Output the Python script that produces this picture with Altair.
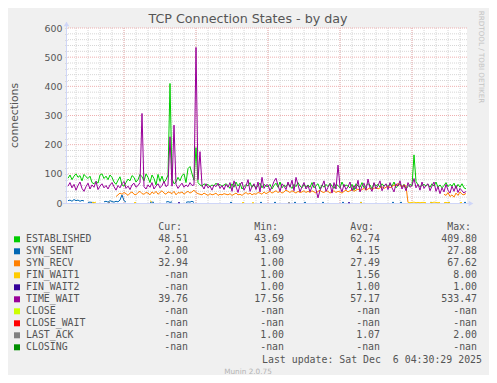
import altair as alt
import pandas as pd

NAN = float("nan")

# ---------------- time base (hours relative to Fri 00:00), 10-minute samples ----------------
T0_HOURS = -4 - 40 / 60      # Thu 19:20
STEP_HOURS = 10 / 60
N = 200
X_DOMAIN = [-4.75, 28 + 35 / 60]
Y_DOMAIN = [0, 600]

# ---------------- series values ----------------
established = (
    [85, 96, 80, 92, 100, 88, 94, 76, 98, 90, 84, 92, 70, 66, 74, 68, 96, 100, 84, 92]
    + [80, 96, 88, 72, 64, 78, 90, 62, 58, 70, 82, 76, 94, 88, 72, 80, 98, 90, 76, 100]
    + [88, 70, 96, 84, 62, 98, 74, 92, 70, 80, 96, 409.8, 84, 66, 72, 88, 76, 94, 100, 70]
    + [118, 125, 100, 78, 190, 70, 62, 58, 66, 60, 64, 56, 62, 58, 68, 60, 64, 57, 62, 66]
    + [60, 50, 66, 54, 72, 58, 68, 48, 56, 64, 58, 70, 54, 62, 50, 60, 68, 52, 64, 58]
    + [56, 64, 48, 60, 68, 54, 72, 52, 62, 56, 66, 58, 50, 64, 56, 70, 58, 52, 64, 54]
    + [62, 54, 70, 52, 60, 66, 48, 62, 54, 64, 56, 68, 58, 50, 64, 60, 52, 72, 56, 62]
    + [58, 52, 64, 43.69, 66, 58, 54, 70, 52, 60, 66, 62, 48, 68, 58, 64, 54, 66, 58, 64]
    + [56, 66, 58, 72, 52, 60, 66, 54, 64, 50, 56, 64, 58, 165, 74, 62, 56, 60, 64, 58]
    + [64, 54, 66, 58, 72, 54, 62, 52, 60, 70, 56, 64, 58, 68, 50, 64, 54, 66, 52, 48.51]
)
time_wait = (
    [58, 70, 52, 64, 44, 60, 72, 50, 40, 56, 68, 48, 62, 54, 74, 46, 58, 66, 52, 60]
    + [48, 62, 70, 56, 44, 60, 52, 66, 74, 50, 58, 46, 62, 68, 54, 60, 70, 307, 56, 48]
    + [62, 54, 70, 48, 58, 66, 52, 60, 74, 56, 62, 227, 58, 267, 64, 50, 60, 68, 54, 62]
    + [56, 70, 60, 62, 533.47, 80, 176, 60, 48, 66, 52, 58, 44, 62, 56, 68, 50, 60, 46, 64]
    + [54, 70, 40, 76, 56, 36, 62, 72, 44, 58, 80, 40, 56, 66, 46, 72, 38, 88, 50, 62]
    + [62, 42, 56, 74, 85, 60, 40, 66, 58, 46, 72, 54, 78, 42, 88, 62, 38, 56, 70, 48]
    + [60, 38, 56, 72, 46, 17.56, 44, 58, 76, 40, 54, 66, 34, 70, 48, 130, 56, 38, 64, 46]
    + [56, 72, 42, 60, 48, 78, 38, 58, 68, 44, 82, 52, 40, 70, 48, 60, 76, 42, 58, 66]
    + [46, 70, 52, 38, 66, 58, 76, 48, 62, 42, 70, 54, 60, 84, 52, 64, 44, 72, 50, 60]
    + [66, 42, 58, 72, 40, 56, 32, 52, 38, 64, 44, 34, 58, 40, 60, 36, 50, 42, 34, 39.76]
)
syn_recv = (
    [NAN] * 20
    + [NAN] * 4 + [22, 28, 34, 30, 36, 32, 26, 34, 38, 30, 28, 36, 40, 32, 30, 36]
    + [34, 28, 38, 32, 40, 30, 36, 42, 34, 30, 38, 36, 32, 40, 28, 36, 34, 38, 30, 36]
    + [40, 34, 38, 44, 36, 32, 30, 28, 34, 30, 26, 32, 28, 30, 34, 26, 30, 28, 32, 30]
    + [28, 32, 26, 30, 34, 28, 30, 26, 32, 36, 30, 34, 28, 32, 30, 36, 34, 30, 38, 32]
    + [36, 40, 34, 38, 42, 36, 40, 34, 38, 44, 40, 36, 42, 38, 34, 40, 36, 38, 42, 36]
    + [40, 36, 42, 38, 34, 40, 44, 38, 36, 42, 40, 34, 38, 42, 36, 40, 38, 34, 40, 44]
    + [38, 42, 46, 40, 44, 48, 42, 46, 50, 44, 48, 52, 46, 50, 54, 48, 52, 56, 50, 54]
    + [58, 52, 56, 62, 58, 67.62, 60, 56, 62, 58, 2] + [NAN] * 9
    + [NAN] * 8 + [30, 26, 36, 22, 28, 20, 34, 26, 38, 30, 28, 32.94]
)
# sparse series: (first sample index, values)
syn_sent_runs = [
    (0, [8, 10, 6, 12, 8, 10, 6, 9, 7]), (10, [2, 3, 2, 2]),
    (18, [4, 6, 3, 8, 5, 3, 6, 4, 10, 27.88, 8, 3]), (41, [2, 3, 2]), (49, [3, 5, 2, 4]),
    (59, [2, 4, 3, 6, 2]), (81, [2, 2]), (96, [2, 2]), (103, [2, 2]), (113, [2, 2]),
    (118, [2, 2]), (127, [2, 2]), (137, [2, 2]), (146, [2, 2]), (162, [2, 2]),
    (166, [2, 2]), (181, [2, 2]), (190, [2, 2]), (198, [2, 2]),
]
fin_wait1_runs = [
    (12, [2, 1, 3]), (33, [1, 2]), (41, [8, 2]), (87, [1, 2]), (92, [1, 1]), (146, [2, 1]),
    (170, [2, 1, 2, 3, 1, 2, 1, 2, 2, 1]), (181, [2, 1, 3, 2, 1, 2]), (188, [1, 2, 1, 2]),
    (196, [1, 2]),
]
fin_wait2_runs = [(55, [1, 1]), (140, [1, 1])]
last_ack_runs = [(20, [1, 2]), (110, [1, 1])]

# ---------------- legend table ----------------
series_names = ["ESTABLISHED", "SYN_SENT", "SYN_RECV", "FIN_WAIT1", "FIN_WAIT2",
                "TIME_WAIT", "CLOSE", "CLOSE_WAIT", "LAST_ACK", "CLOSING"]
series_colors = ["#00CC00", "#0066B3", "#FF8000", "#FFCC00", "#330099",
                 "#990099", "#CCFF00", "#FF0000", "#808080", "#008F00"]
cur_vals = ["48.51", "2.00", "32.94", "-nan", "-nan", "39.76", "-nan", "-nan", "-nan", "-nan"]
min_vals = ["43.69", "1.00", "1.00", "1.00", "1.00", "17.56", "-nan", "-nan", "1.00", "-nan"]
avg_vals = ["62.74", "4.15", "27.49", "1.56", "1.00", "57.17", "-nan", "-nan", "1.07", "-nan"]
max_vals = ["409.80", "27.88", "67.62", "8.00", "1.00", "533.47", "-nan", "-nan", "2.00", "-nan"]
headers = ["Cur:", "Min:", "Avg:", "Max:"]

title_text = "TCP Connection States - by day"
y_title = "connections"
side_text = "RRDTOOL / TOBI OETIKER"
last_update = "Last update: Sat Dec \u00a06 04:30:29 2025"
footer = "Munin 2.0.75"

x_tick_hours = [0, 6, 12, 18, 24]
x_tick_labels = ["Fri 00:00", "Fri 06:00", "Fri 12:00", "Fri 18:00", "Sat 00:00"]
minor_hours = list(range(-4, 29))
major_y = [100, 200, 300, 400, 500, 600]
minor_y = [v for v in range(20, 600, 20) if v % 100 != 0]


def expand(runs):
    out = [NAN] * N
    for start, vals in runs:
        for k, v in enumerate(vals):
            out[start + k] = v
    return out


times = [T0_HOURS + STEP_HOURS * i for i in range(N)]
series_values = {
    "ESTABLISHED": established,
    "SYN_SENT": expand(syn_sent_runs),
    "SYN_RECV": syn_recv,
    "FIN_WAIT1": expand(fin_wait1_runs),
    "FIN_WAIT2": expand(fin_wait2_runs),
    "TIME_WAIT": time_wait,
    "LAST_ACK": expand(last_ack_runs),
}

xscale = alt.Scale(domain=X_DOMAIN, nice=False, zero=False)
yscale = alt.Scale(domain=Y_DOMAIN, nice=False)

GRID_MINOR = "#d6d6d6"
GRID_MAJOR = "#eeb0b0"
AXIS_COL = "#CFD6F8"
TXT = "#555555"

label_expr = " : ".join(
    f"datum.value == {h} ? '{l}'" for h, l in zip(x_tick_hours, x_tick_labels)
) + " : ''"

x_axis = alt.Axis(values=minor_hours, labelExpr=label_expr, domain=False, ticks=True,
                  tickSize=2, tickColor="#c4c4c4", labelFont="DejaVu Sans",
                  labelFontSize=9.4, labelColor=TXT, labelPadding=2, grid=False,
                  title=None, labelOverlap=False, labelFlush=False)
y_axis = alt.Axis(values=list(range(0, 601, 20)),
                  labelExpr="datum.value % 100 == 0 ? datum.label : ''",
                  domain=False, ticks=True, tickSize=2, tickColor="#c4c4c4",
                  labelFont="DejaVu Sans", labelFontSize=9.4, labelColor=TXT,
                  labelPadding=3, grid=False, title=None, labelOverlap=False,
                  format="d")

layers = []
# grid
layers.append(alt.Chart(pd.DataFrame({"t": minor_hours})).mark_rule(
    color=GRID_MINOR, strokeDash=[1, 1], strokeWidth=1).encode(
    x=alt.X("t:Q", scale=xscale, axis=x_axis)))
layers.append(alt.Chart(pd.DataFrame({"v": minor_y})).mark_rule(
    color=GRID_MINOR, strokeDash=[1, 1], strokeWidth=1).encode(
    y=alt.Y("v:Q", scale=yscale, axis=y_axis)))
layers.append(alt.Chart(pd.DataFrame({"t": x_tick_hours})).mark_rule(
    color=GRID_MAJOR, strokeDash=[1, 1], strokeWidth=1).encode(
    x=alt.X("t:Q", scale=xscale, axis=None)))
layers.append(alt.Chart(pd.DataFrame({"v": major_y})).mark_rule(
    color=GRID_MAJOR, strokeDash=[1, 1], strokeWidth=1).encode(
    y=alt.Y("v:Q", scale=yscale, axis=None)))

# axis lines and arrows
layers.append(alt.Chart(pd.DataFrame({"a": [0]})).mark_rule(color=AXIS_COL, strokeWidth=1).encode(
    x=alt.value(-0.5), y=alt.value(-6), y2=alt.value(175.5)))
layers.append(alt.Chart(pd.DataFrame({"a": [0]})).mark_rule(color=AXIS_COL, strokeWidth=1).encode(
    x=alt.value(-4), x2=alt.value(403), y=alt.value(175.5)))
layers.append(alt.Chart(pd.DataFrame({"a": [0]})).mark_point(
    shape="triangle-up", filled=True, color=AXIS_COL, size=30, opacity=1).encode(
    x=alt.value(-0.5), y=alt.value(-4)))
layers.append(alt.Chart(pd.DataFrame({"a": [0]})).mark_point(
    shape="triangle-right", filled=True, color=AXIS_COL, size=30, opacity=1).encode(
    x=alt.value(404), y=alt.value(175.5)))

# data lines
for name, color in zip(series_names, series_colors):
    if name not in series_values:
        continue
    df = pd.DataFrame({"t": times, "v": series_values[name]})
    layers.append(alt.Chart(df).mark_line(
        color=color, strokeWidth=1, invalid="break-paths-filter-domains").encode(
        x=alt.X("t:Q", scale=xscale, axis=None),
        y=alt.Y("v:Q", scale=yscale, axis=None)))


# texts
def text_layer(txt, x, y, size, font="DejaVu Sans", color=TXT, align="center",
               angle=0, baseline="middle"):
    return alt.Chart(pd.DataFrame({"s": [txt]})).mark_text(
        font=font, fontSize=size, color=color, align=align, baseline=baseline,
        angle=angle).encode(text="s:N", x=alt.value(x), y=alt.value(y))


layers.append(text_layer(title_text, 181, -9, 12.7))
layers.append(text_layer(y_title, -52, 87.5, 10.8, angle=270))
layers.append(text_layer(side_text, 414, 29, 7.2, color="#c4c4c4", angle=90))
layers.append(text_layer(footer, 181, 344, 7.3, color="#b4b4b4"))
layers.append(text_layer(last_update, 415, 332, 9.9, font="DejaVu Sans Mono", align="right"))

MONO = "DejaVu Sans Mono"
MONO_SIZE = 9.9
col_right = [121, 217, 313, 410]
for hx, h in zip(col_right, headers):
    layers.append(text_layer(h, hx - 6, 199.3, MONO_SIZE, font=MONO, align="right"))

legend_df = pd.DataFrame({
    "row": list(range(len(series_names))),
    "name": series_names, "color": series_colors,
    "cur": cur_vals, "min": min_vals, "avg": avg_vals, "max": max_vals,
})
row_y = alt.Y("row:Q", scale=alt.Scale(domain=[0, 9], range=[211.3, 319.3]), axis=None)
layers.append(alt.Chart(legend_df).mark_square(size=36, opacity=1).encode(
    x=alt.value(-50), y=row_y, color=alt.Color("color:N", scale=None)))
layers.append(alt.Chart(legend_df).mark_text(
    font=MONO, fontSize=MONO_SIZE, color=TXT, align="left", baseline="middle").encode(
    x=alt.value(-41), y=row_y, text="name:N"))
for cx, col in zip(col_right, ["cur", "min", "avg", "max"]):
    layers.append(alt.Chart(legend_df).mark_text(
        font=MONO, fontSize=MONO_SIZE, color=TXT, align="right", baseline="middle").encode(
        x=alt.value(cx), y=row_y, text=f"{col}:N"))

chart = alt.layer(*layers).resolve_scale(y="independent").properties(
    width=400, height=175,
    autosize=alt.AutoSizeParams(type="none"),
    padding={"left": 59, "top": 20, "right": 22, "bottom": 172},
).configure(background="#f0f0f0").configure_view(fill="white", strokeWidth=0)

chart.save("out.html", embed_options={"renderer": "svg", "actions": False})
